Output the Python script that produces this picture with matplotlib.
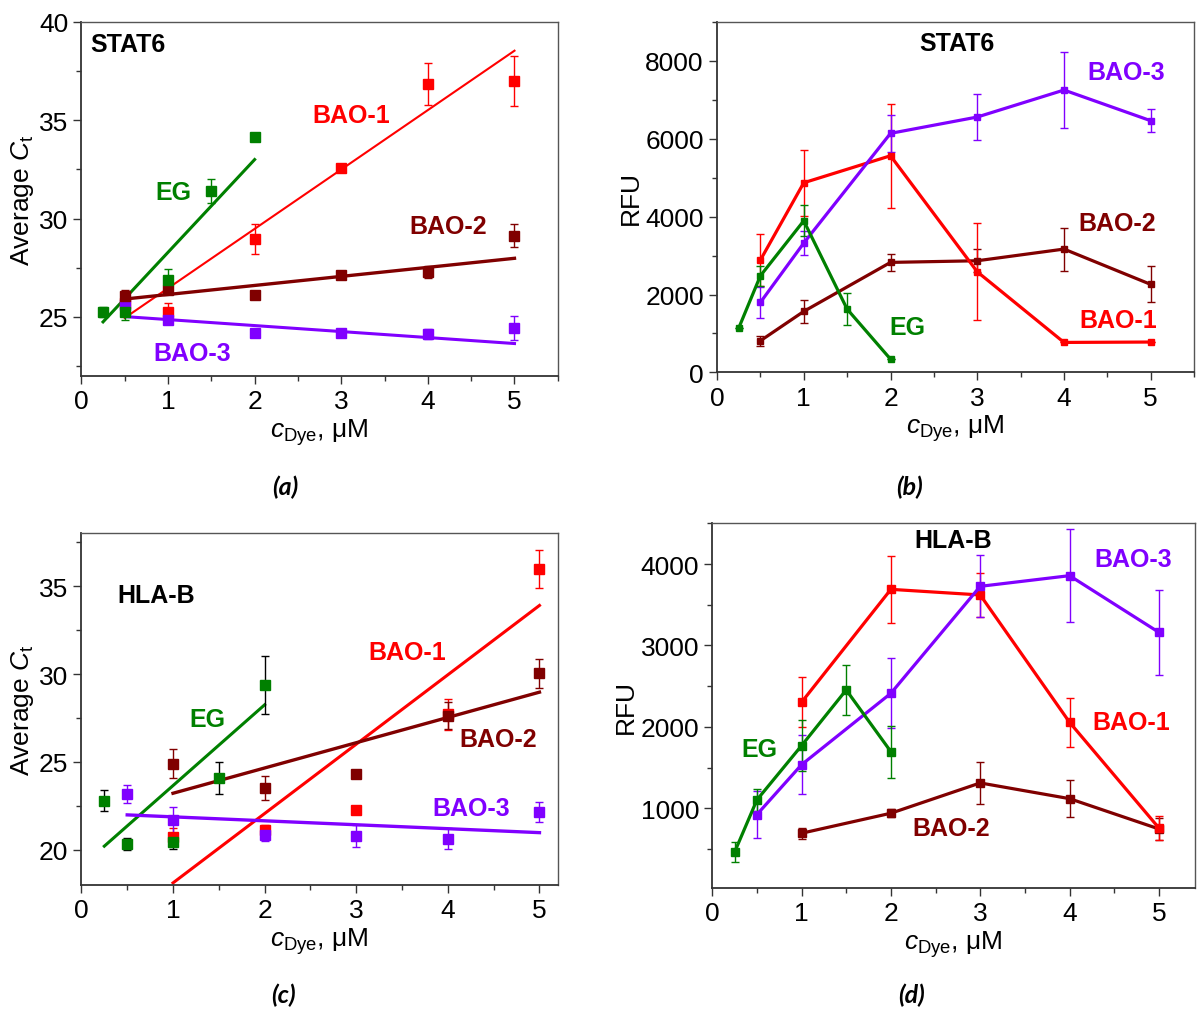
import numpy as np
import matplotlib
matplotlib.use("Agg")
import matplotlib.pyplot as plt
import matplotlib.ticker as ticker

plt.rcParams['font.family'] = ['Liberation Sans', 'DejaVu Sans']
plt.rcParams['mathtext.fontset'] = 'custom'
plt.rcParams['mathtext.rm'] = 'Liberation Sans'
plt.rcParams['mathtext.it'] = 'Liberation Sans:italic'

# цвета серий
RED = '#ff0000'
DRED = '#800000'
GREEN = '#008000'
VIOL = '#8000ff'

# ---------- (a) STAT6, Average Ct ----------
a_eg_x = [0.25, 0.5, 1, 1.5, 2]
a_eg_y = [25.24, 25.25, 26.9, 31.4, 34.15]
a_eg_e = [0.25, 0.43, 0.53, 0.63, 0.0]
a_b1_x = [0.5, 1, 2, 3, 4, 5]
a_b1_y = [25.7, 25.24, 28.96, 32.58, 36.83, 37.01]
a_b1_e = [0.3, 0.45, 0.74, 0.2, 1.07, 1.27]
a_b2_x = [0.5, 1, 2, 3, 4, 5]
a_b2_y = [26.05, 26.38, 26.1, 27.14, 27.28, 29.13]
a_b2_e = [0.3, 0.15, 0.1, 0.15, 0.3, 0.6]
a_b3_x = [0.5, 1, 2, 3, 4, 5]
a_b3_y = [25.6, 24.86, 24.17, 24.2, 24.14, 24.44]
a_b3_e = [0.3, 0.2, 0.1, 0.1, 0.24, 0.63]
# линейные аппроксимации: наклон, свободный член, диапазон x
a_fit_eg = (4.714, 23.57, 0.25, 2)
a_fit_b1 = (3.018, 23.44, 0.5, 5)
a_fit_b2 = (0.46, 25.68, 0.5, 5)
a_fit_b3 = (-0.3044, 25.17, 0.5, 5)

# ---------- (b) STAT6, RFU ----------
b_eg_x = [0.25, 0.5, 1, 1.5, 2]
b_eg_y = [1137, 2480, 3892, 1625, 341]
b_eg_e = [0, 250, 400, 415, 0]
b_b1_x = [0.5, 1, 2, 3, 4, 5]
b_b1_y = [2883, 4868, 5561, 2583, 770, 780]
b_b1_e = [670, 850, 1330, 1250, 0, 0]
b_b2_x = [0.5, 1, 2, 3, 4, 5]
b_b2_y = [812, 1566, 2824, 2866, 3166, 2259]
b_b2_e = [130, 300, 210, 300, 550, 460]
b_b3_x = [0.5, 1, 2, 3, 4, 5]
b_b3_y = [1797, 3320, 6136, 6555, 7248, 6460]
b_b3_e = [400, 310, 470, 600, 975, 300]

# ---------- (c) HLA-B, Average Ct ----------
c_eg_x = [0.25, 0.5, 1, 1.5, 2]
c_eg_y = [22.8, 20.34, 20.47, 24.08, 29.35]
c_eg_e = [0.6, 0.35, 0.4, 0.93, 1.65]
c_b1_x = [1, 2, 3, 4, 5]
c_b1_y = [20.72, 21.1, 22.24, 27.7, 35.95]
c_b1_e = [0.5, 0.3, 0.2, 0.9, 1.08]
c_b2_x = [1, 2, 3, 4, 5]
c_b2_y = [24.91, 23.53, 24.32, 27.64, 30.05]
c_b2_e = [0.8, 0.67, 0.1, 0.75, 0.83]
c_b3_x = [0.5, 1, 2, 3, 4, 5]
c_b3_y = [23.17, 21.67, 20.85, 20.78, 20.63, 22.14]
c_b3_e = [0.53, 0.74, 0.35, 0.64, 0.6, 0.57]
c_fit_eg = (4.594, 19.06, 0.25, 2)
c_fit_b1 = (3.945, 14.175, 1, 5)
c_fit_b2 = (1.4375, 21.78, 1, 5)
c_fit_b3 = (-0.2244, 22.10, 0.5, 5)

# ---------- (d) HLA-B, RFU ----------
d_eg_x = [0.25, 0.5, 1, 1.5, 2]
d_eg_y = [460, 1102, 1769, 2453, 1695]
d_eg_e = [120, 140, 310, 310, 320]
d_b1_x = [1, 2, 3, 4, 5]
d_b1_y = [2302, 3689, 3620, 2056, 758]
d_b1_e = [305, 415, 265, 300, 150]
d_b2_x = [1, 2, 3, 4, 5]
d_b2_y = [693, 939, 1311, 1118, 746]
d_b2_e = [70, 50, 262, 225, 130]
d_b3_x = [0.5, 1, 2, 3, 4, 5]
d_b3_y = [922, 1535, 2412, 3726, 3857, 3161]
d_b3_e = [290, 365, 430, 380, 570, 525]


fig = plt.figure(figsize=(11.97, 10.12), dpi=100)
axA = fig.add_axes([0.068, 0.6275, 0.398, 0.350])
axB = fig.add_axes([0.599, 0.631, 0.3986, 0.3465])
axC = fig.add_axes([0.068, 0.1245, 0.398, 0.3475])
axD = fig.add_axes([0.595, 0.1215, 0.403, 0.3604])

XLAB = r'$\mathit{c}_\mathrm{Dye}$, μM'


def style(ax, xmax, ylim, ymaj, ymin_step):
    ax.set_xlim(0, xmax)
    ax.set_ylim(*ylim)
    ax.xaxis.set_major_locator(ticker.MultipleLocator(1))
    ax.xaxis.set_minor_locator(ticker.MultipleLocator(0.5))
    ax.yaxis.set_major_locator(ticker.MultipleLocator(ymaj))
    ax.yaxis.set_minor_locator(ticker.MultipleLocator(ymin_step))
    ax.tick_params(which='both', direction='out', top=False, right=False,
                   labelsize=19, color='#333333', width=1.0)
    ax.tick_params(which='major', length=6)
    ax.tick_params(which='minor', length=3.5)
    for s in ['left', 'bottom']:
        ax.spines[s].set_color('#333333')
        ax.spines[s].set_linewidth(1.3)
    for s in ['top', 'right']:
        ax.spines[s].set_color('#555555')
        ax.spines[s].set_linewidth(1.0)
    ax.set_xlabel(XLAB, fontsize=19, labelpad=2)


def pts(ax, x, y, e, col, ms, ecol=None):
    ax.errorbar(x, y, yerr=e, fmt='s', color=col, ecolor=ecol or col,
                ms=ms, elinewidth=1.0, capsize=3, capthick=1.0, zorder=3)


def fit(ax, p, col, lw):
    xs = np.array([p[2], p[3]])
    ax.plot(xs, p[0] * xs + p[1], color=col, lw=lw, zorder=2)


def curve(ax, x, y, e, col, ms, lw=2.3):
    ax.errorbar(x, y, yerr=e, fmt='-s', color=col, ms=ms, lw=lw,
                elinewidth=1.0, capsize=3, capthick=1.0, zorder=3)


def lab(ax, x, y, s, col, size=18):
    ax.text(x, y, s, color=col, fontsize=size, fontweight='bold',
            ha='center', va='center')


# (a)
style(axA, 5.5, (22, 40), 5, 2.5)
axA.set_ylabel(r'Average $\mathit{C}_\mathrm{t}$', fontsize=19, labelpad=2)
fit(axA, a_fit_eg, GREEN, 2.2)
fit(axA, a_fit_b1, RED, 1.5)
fit(axA, a_fit_b2, DRED, 2.4)
fit(axA, a_fit_b3, VIOL, 2.2)
pts(axA, a_b1_x, a_b1_y, a_b1_e, RED, 6.5)
pts(axA, a_b3_x, a_b3_y, a_b3_e, VIOL, 6.5)
pts(axA, a_b2_x, a_b2_y, a_b2_e, DRED, 6.5)
pts(axA, a_eg_x, a_eg_y, a_eg_e, GREEN, 6.5)
axA.text(0.1, 38.85, 'STAT6', fontsize=18, fontweight='bold', va='center')
lab(axA, 3.12, 35.25, 'BAO-1', RED)
lab(axA, 1.06, 31.37, 'EG', GREEN)
lab(axA, 4.23, 29.6, 'BAO-2', DRED)
lab(axA, 1.28, 23.16, 'BAO-3', VIOL)

# (b)
style(axB, 5.5, (0, 9000), 2000, 1000)
axB.set_ylabel('RFU', fontsize=19, labelpad=2)
curve(axB, b_b2_x, b_b2_y, b_b2_e, DRED, 4.5)
curve(axB, b_b1_x, b_b1_y, b_b1_e, RED, 4.5)
curve(axB, b_b3_x, b_b3_y, b_b3_e, VIOL, 4.5)
curve(axB, b_eg_x, b_eg_y, b_eg_e, GREEN, 4.5)
lab(axB, 2.77, 8454, 'STAT6', 'black')
lab(axB, 4.72, 7723, 'BAO-3', VIOL)
lab(axB, 4.61, 3833, 'BAO-2', DRED)
lab(axB, 2.2, 1176, 'EG', GREEN)
lab(axB, 4.62, 1343, 'BAO-1', RED)

# (c)
style(axC, 5.2, (18, 38), 5, 2.5)
axC.set_ylabel(r'Average $\mathit{C}_\mathrm{t}$', fontsize=19, labelpad=2)
fit(axC, c_fit_eg, GREEN, 2.2)
fit(axC, c_fit_b1, RED, 2.2)
fit(axC, c_fit_b2, DRED, 2.4)
fit(axC, c_fit_b3, VIOL, 2.4)
pts(axC, c_b1_x, c_b1_y, c_b1_e, RED, 6.5)
pts(axC, c_b2_x, c_b2_y, c_b2_e, DRED, 6.5)
pts(axC, c_b3_x, c_b3_y, c_b3_e, VIOL, 6.5)
pts(axC, c_eg_x, c_eg_y, c_eg_e, GREEN, 6.5, ecol='black')
axC.text(0.39, 34.5, 'HLA-B', fontsize=18, fontweight='bold', va='center')
lab(axC, 3.56, 31.25, 'BAO-1', RED)
lab(axC, 1.37, 27.45, 'EG', GREEN)
lab(axC, 4.55, 26.32, 'BAO-2', DRED)
lab(axC, 4.25, 22.39, 'BAO-3', VIOL)

# (d)
style(axD, 5.4, (20, 4500), 1000, 500)
axD.set_ylabel('RFU', fontsize=19, labelpad=2)
curve(axD, d_b2_x, d_b2_y, d_b2_e, DRED, 6)
curve(axD, d_b1_x, d_b1_y, d_b1_e, RED, 6)
curve(axD, d_b3_x, d_b3_y, d_b3_e, VIOL, 6)
curve(axD, d_eg_x, d_eg_y, d_eg_e, GREEN, 6)
lab(axD, 2.70, 4295, 'HLA-B', 'black')
lab(axD, 4.71, 4061, 'BAO-3', VIOL)
lab(axD, 4.69, 2060, 'BAO-1', RED)
lab(axD, 0.53, 1728, 'EG', GREEN)
lab(axD, 2.67, 758, 'BAO-2', DRED)

# подписи панелей
for x, y, s in [(285, 487, '(a)'), (910, 487, '(b)'), (283, 995, '(c)'), (912, 995, '(d)')]:
    fig.text(x / 1197, 1 - y / 1012, s, fontsize=18, fontweight='bold',
             fontstyle='italic', family=['Lato', 'DejaVu Sans'],
             ha='center', va='center')

fig.savefig('out.png', dpi=100)
